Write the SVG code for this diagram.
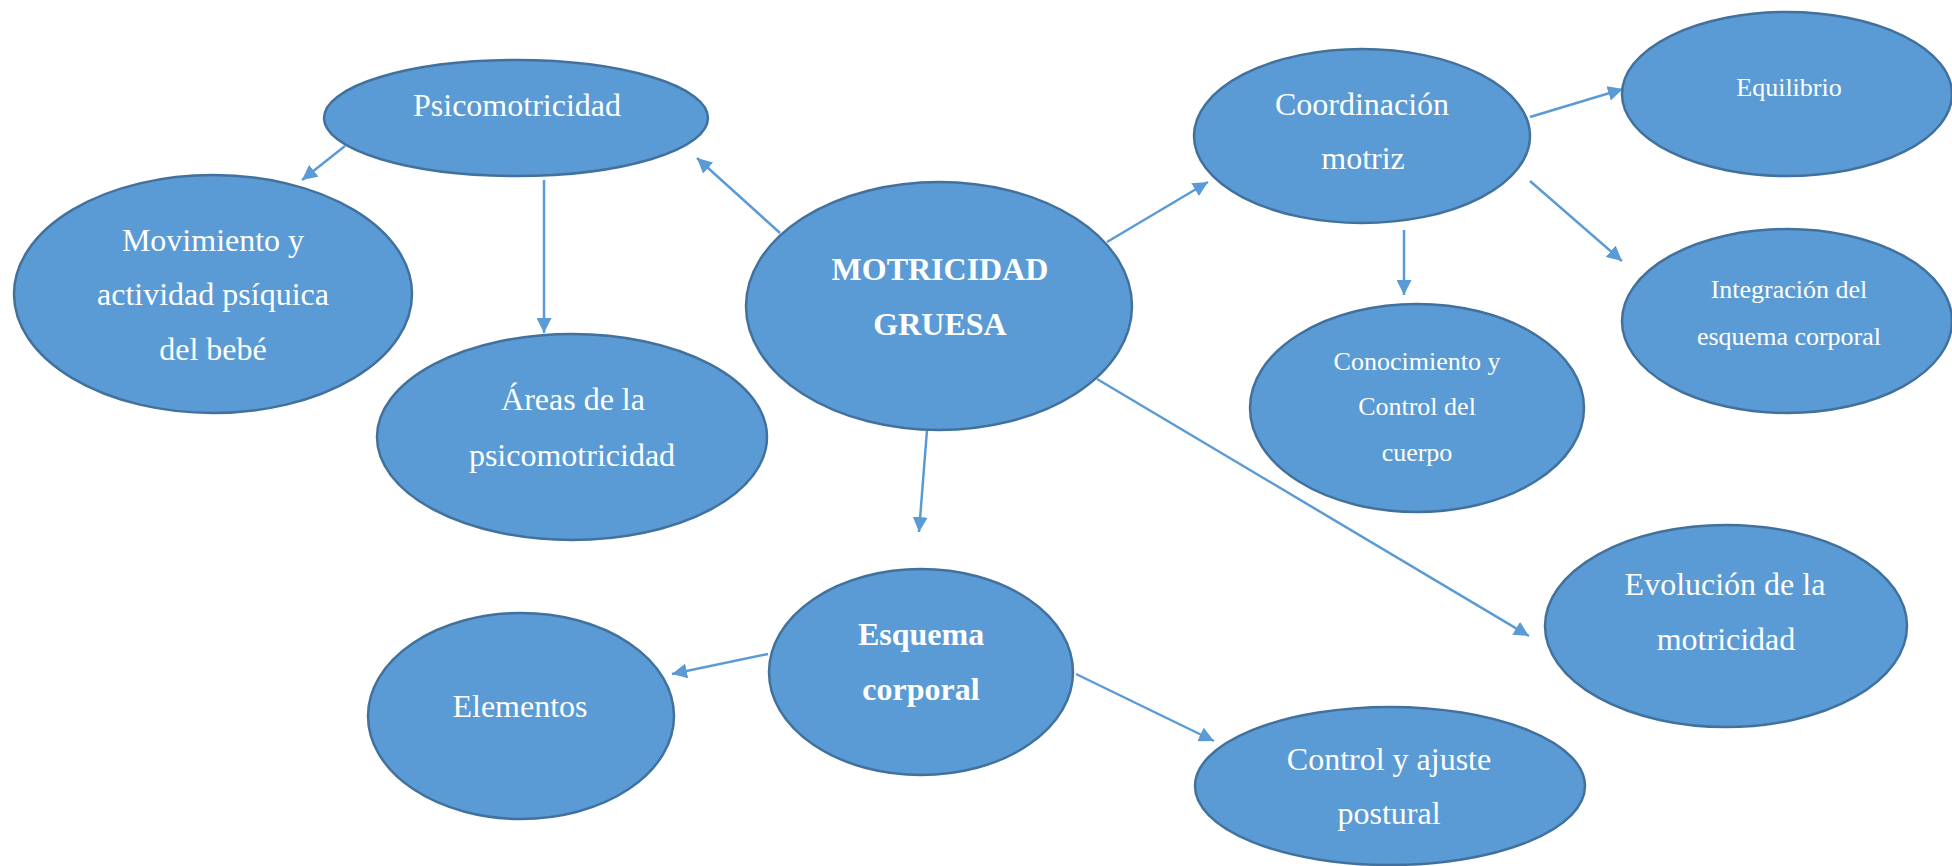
<svg xmlns="http://www.w3.org/2000/svg" width="1952" height="866" viewBox="0 0 1952 866">
<defs>
<style>
.n{fill:#5b9bd5;stroke:#41719c;stroke-width:2.5}
.t{fill:#ffffff;font-family:"Liberation Serif","Times New Roman",serif;font-size:32px;text-anchor:middle}
.s{font-size:26px}
.b{font-weight:bold}
.c{stroke:#5b9bd5;stroke-width:2.5;fill:none;marker-end:url(#ah)}
</style>
<marker id="ah" viewBox="0 0 10 10" refX="10" refY="5" markerWidth="6" markerHeight="6" orient="auto" markerUnits="strokeWidth">
<path d="M0,0 L10,5 L0,10 z" fill="#5b9bd5"/>
</marker>
</defs>
<rect width="1952" height="866" fill="#ffffff"/>
<g id="connectors">
<line class="c" x1="345" y1="146" x2="302" y2="180"/>
<line class="c" x1="544" y1="180" x2="544" y2="333"/>
<line class="c" x1="780" y1="233" x2="697" y2="158"/>
<line class="c" x1="1107" y1="242" x2="1208" y2="182"/>
<line class="c" x1="1530" y1="117" x2="1623" y2="89"/>
<line class="c" x1="1530" y1="181" x2="1622" y2="261"/>
<line class="c" x1="1404" y1="230" x2="1404" y2="295"/>
<line class="c" x1="1097" y1="379" x2="1529" y2="636"/>
<line class="c" x1="927" y1="430" x2="919" y2="532"/>
<line class="c" x1="768" y1="654" x2="672" y2="674"/>
<line class="c" x1="1076" y1="674" x2="1214" y2="741"/>
</g>
<g id="psicomotricidad">
<ellipse class="n" cx="516" cy="118" rx="192" ry="58"/>
<text class="t" x="517" y="116">Psicomotricidad</text>
</g>
<g id="movimiento">
<ellipse class="n" cx="213" cy="294" rx="199" ry="119"/>
<text class="t" x="213" y="251">Movimiento y</text>
<text class="t" x="213" y="305">actividad psíquica</text>
<text class="t" x="213" y="360">del bebé</text>
</g>
<g id="areas">
<ellipse class="n" cx="572" cy="437" rx="195" ry="103"/>
<text class="t" x="573" y="410">Áreas de la</text>
<text class="t" x="572" y="466">psicomotricidad</text>
</g>
<g id="motricidad-gruesa">
<ellipse class="n" cx="939" cy="306" rx="193" ry="124"/>
<text class="t b" x="940" y="280">MOTRICIDAD</text>
<text class="t b" x="940" y="335">GRUESA</text>
</g>
<g id="coordinacion">
<ellipse class="n" cx="1362" cy="136" rx="168" ry="87"/>
<text class="t" x="1362" y="115">Coordinación</text>
<text class="t" x="1363" y="169">motriz</text>
</g>
<g id="equilibrio">
<ellipse class="n" cx="1787" cy="94" rx="165" ry="82"/>
<text class="t s" x="1789" y="96">Equilibrio</text>
</g>
<g id="integracion">
<ellipse class="n" cx="1787" cy="321" rx="165" ry="92"/>
<text class="t s" x="1789" y="298">Integración del</text>
<text class="t s" x="1789" y="345">esquema corporal</text>
</g>
<g id="conocimiento">
<ellipse class="n" cx="1417" cy="408" rx="167" ry="104"/>
<text class="t s" x="1417" y="370">Conocimiento y</text>
<text class="t s" x="1417" y="415">Control del</text>
<text class="t s" x="1417" y="461">cuerpo</text>
</g>
<g id="evolucion">
<ellipse class="n" cx="1726" cy="626" rx="181" ry="101"/>
<text class="t" x="1725" y="595">Evolución de la</text>
<text class="t" x="1726" y="650">motricidad</text>
</g>
<g id="esquema-corporal">
<ellipse class="n" cx="921" cy="672" rx="152" ry="103"/>
<text class="t b" x="921" y="645">Esquema</text>
<text class="t b" x="921" y="700">corporal</text>
</g>
<g id="elementos">
<ellipse class="n" cx="521" cy="716" rx="153" ry="103"/>
<text class="t" x="520" y="717">Elementos</text>
</g>
<g id="control-ajuste">
<ellipse class="n" cx="1390" cy="786" rx="195" ry="79"/>
<text class="t" x="1389" y="770">Control y ajuste</text>
<text class="t" x="1389" y="824">postural</text>
</g>
</svg>
